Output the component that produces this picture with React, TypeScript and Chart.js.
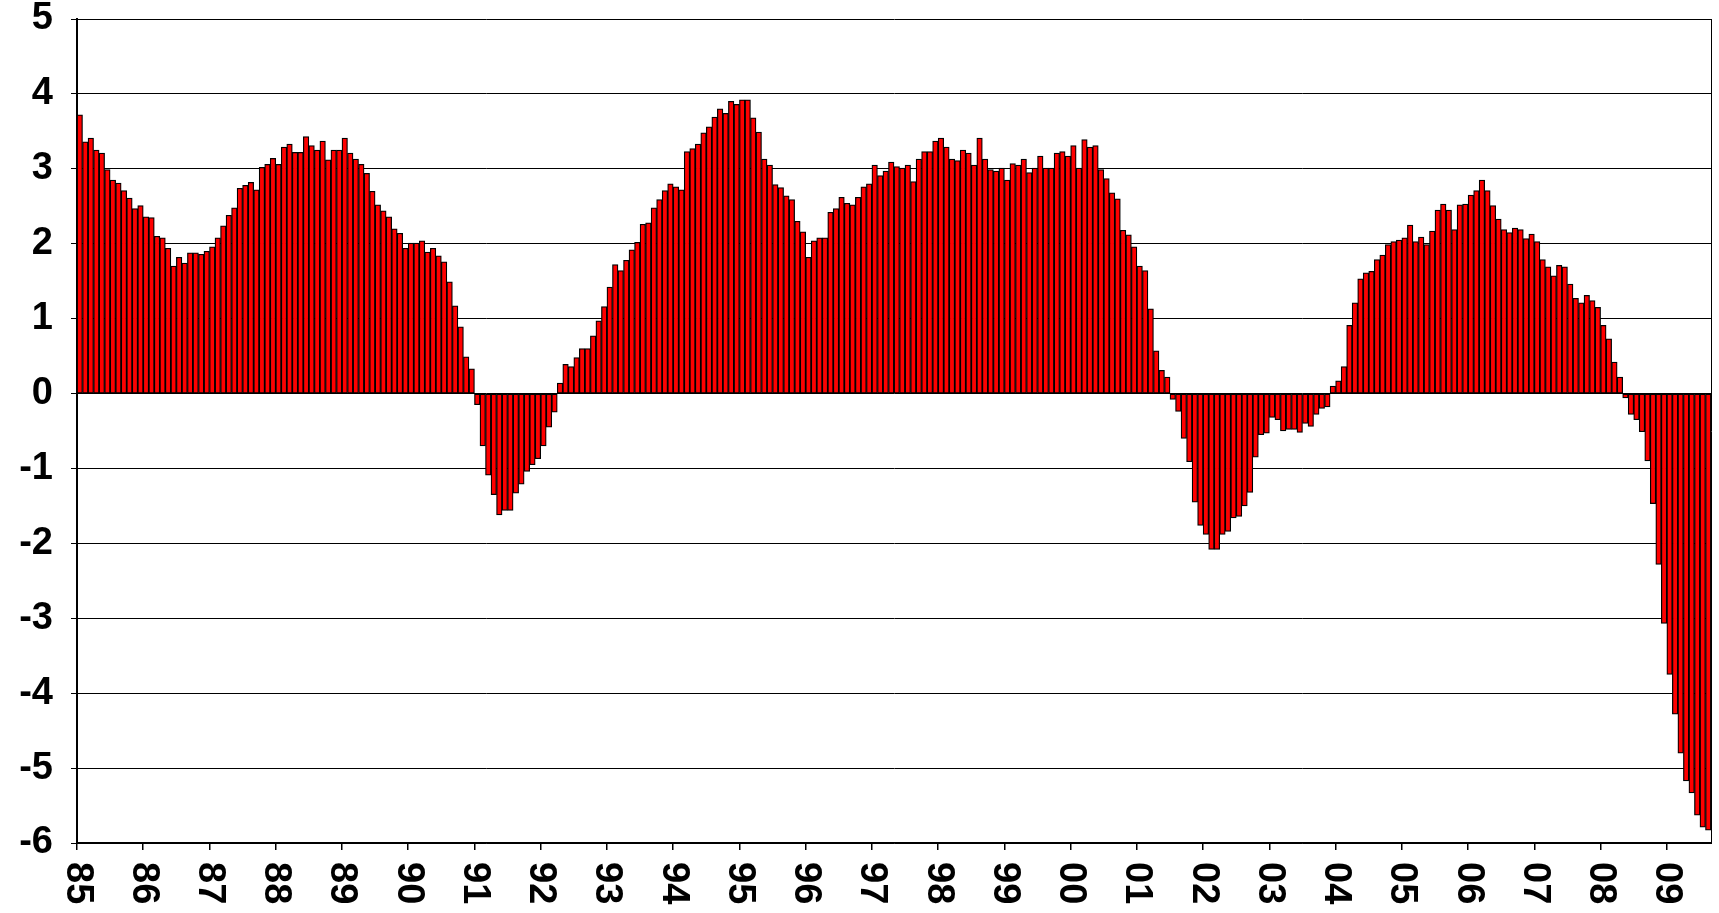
import React, { useEffect, useRef } from 'react';
import { Chart, registerables } from 'chart.js';

Chart.register(...registerables);

// Monthly values, Jan 1985 .. Aug 2009
const y1985 = [3.72, 3.36, 3.41, 3.25, 3.21, 2.99, 2.85, 2.81, 2.71, 2.61, 2.47, 2.51];
const y1986 = [2.36, 2.35, 2.10, 2.08, 1.94, 1.70, 1.82, 1.74, 1.88, 1.88, 1.86, 1.90];
const y1987 = [1.96, 2.08, 2.24, 2.38, 2.48, 2.74, 2.78, 2.82, 2.72, 3.02, 3.06, 3.14];
const y1988 = [3.06, 3.29, 3.33, 3.22, 3.22, 3.43, 3.31, 3.25, 3.37, 3.12, 3.25, 3.25];
const y1989 = [3.41, 3.21, 3.13, 3.06, 2.94, 2.70, 2.52, 2.44, 2.36, 2.20, 2.14, 1.94];
const y1990 = [2.01, 2.01, 2.04, 1.89, 1.94, 1.84, 1.76, 1.49, 1.17, 0.89, 0.49, 0.33];
const y1991 = [-0.15, -0.70, -1.09, -1.35, -1.62, -1.56, -1.56, -1.33, -1.21, -1.04, -0.95, -0.87];
const y1992 = [-0.70, -0.45, -0.25, 0.14, 0.39, 0.36, 0.48, 0.60, 0.60, 0.77, 0.97, 1.16];
const y1993 = [1.42, 1.72, 1.64, 1.78, 1.92, 2.02, 2.26, 2.28, 2.48, 2.59, 2.71, 2.80];
const y1994 = [2.76, 2.72, 3.23, 3.27, 3.33, 3.48, 3.56, 3.69, 3.80, 3.74, 3.90, 3.86];
const y1995 = [3.92, 3.92, 3.68, 3.49, 3.13, 3.05, 2.79, 2.75, 2.64, 2.59, 2.30, 2.16];
const y1996 = [1.82, 2.04, 2.08, 2.08, 2.42, 2.47, 2.62, 2.54, 2.52, 2.62, 2.76, 2.80];
const y1997 = [3.05, 2.91, 2.97, 3.09, 3.03, 3.01, 3.05, 2.83, 3.13, 3.23, 3.23, 3.37];
const y1998 = [3.41, 3.29, 3.13, 3.11, 3.25, 3.21, 3.05, 3.41, 3.13, 2.99, 2.97, 3.01];
const y1999 = [2.85, 3.07, 3.05, 3.13, 2.95, 3.01, 3.17, 3.01, 3.01, 3.21, 3.23, 3.17];
const y2000 = [3.31, 3.01, 3.39, 3.29, 3.31, 2.99, 2.87, 2.68, 2.60, 2.18, 2.12, 1.96];
const y2001 = [1.70, 1.64, 1.13, 0.57, 0.31, 0.22, -0.08, -0.24, -0.60, -0.91, -1.45, -1.76];
const y2002 = [-1.88, -2.08, -2.08, -1.88, -1.84, -1.66, -1.64, -1.50, -1.32, -0.85, -0.55, -0.53];
const y2003 = [-0.32, -0.35, -0.50, -0.48, -0.48, -0.52, -0.40, -0.44, -0.28, -0.20, -0.18, 0.10];
const y2004 = [0.17, 0.36, 0.91, 1.21, 1.53, 1.61, 1.63, 1.79, 1.85, 1.99, 2.03, 2.05];
const y2005 = [2.08, 2.25, 2.03, 2.09, 1.99, 2.17, 2.45, 2.53, 2.45, 2.19, 2.52, 2.53];
const y2006 = [2.65, 2.71, 2.85, 2.71, 2.51, 2.33, 2.19, 2.15, 2.21, 2.19, 2.07, 2.13];
const y2007 = [2.03, 1.79, 1.69, 1.57, 1.71, 1.69, 1.46, 1.27, 1.21, 1.31, 1.24, 1.15];
const y2008 = [0.91, 0.73, 0.42, 0.22, -0.06, -0.28, -0.35, -0.51, -0.90, -1.47, -2.28, -3.07];
const y2009 = [-3.75, -4.28, -4.80, -5.17, -5.33, -5.63, -5.79, -5.83];

const yearLabels = ['85', '86', '87', '88', '89', '90', '91', '92', '93', '94', '95', '96', '97',
  '98', '99', '00', '01', '02', '03', '04', '05', '06', '07', '08', '09'];
const yMin = -6;
const yMax = 5;

const monthly = [
  ...y1985, ...y1986, ...y1987, ...y1988, ...y1989, ...y1990, ...y1991, ...y1992, ...y1993,
  ...y1994, ...y1995, ...y1996, ...y1997, ...y1998, ...y1999, ...y2000, ...y2001, ...y2002,
  ...y2003, ...y2004, ...y2005, ...y2006, ...y2007, ...y2008, ...y2009,
];

const FONT = '"Liberation Sans", Arial, sans-serif';

export default function App() {
  const ref = useRef<HTMLCanvasElement>(null);

  useEffect(() => {
    if (!ref.current) return;
    const yearLabelPlugin = {
      id: 'yearLabelPlugin',
      afterDraw(chart: any) {
        const xs = chart.scales.x;
        const ctx = chart.ctx;
        ctx.save();
        ctx.font = `bold 38px ${FONT}`;
        ctx.fillStyle = '#000';
        ctx.textAlign = 'left';
        ctx.textBaseline = 'middle';
        yearLabels.forEach((lab, i) => {
          const px = xs.getPixelForValue(i * 12);
          ctx.save();
          ctx.translate(px, chart.chartArea.bottom + 19);
          ctx.rotate(Math.PI / 2);
          ctx.fillText(lab, 0, 0);
          ctx.restore();
        });
        ctx.restore();
      },
    };

    const chart = new Chart(ref.current, {
      type: 'bar',
      data: {
        datasets: [
          {
            data: monthly.map((v, i) => ({ x: i + 0.5, y: v })),
            backgroundColor: '#ff0000',
            borderColor: '#000000',
            borderWidth: 1.25,
            borderSkipped: false,
            barPercentage: 1,
            categoryPercentage: 1,
          },
        ],
      },
      options: {
        responsive: false,
        animation: false,
        devicePixelRatio: 1,
        layout: { padding: { top: 0, left: 0, right: 0, bottom: 0 } },
        plugins: { legend: { display: false }, tooltip: { enabled: false } },
        scales: {
          x: {
            type: 'linear',
            min: 0,
            max: monthly.length,
            offset: false,
            afterBuildTicks: (s: any) => {
              s.ticks = yearLabels.map((_, i) => ({ value: i * 12 }));
            },
            afterFit: (s: any) => {
              s.height = 70;
              s.paddingLeft = 0;
              s.paddingRight = 0;
            },
            grid: {
              offset: false,
              drawOnChartArea: false,
              drawTicks: true,
              tickLength: 7,
              color: '#000',
              lineWidth: 1.5,
            },
            border: { display: true, color: '#000', width: 1.5 },
            ticks: { display: false },
          },
          y: {
            type: 'linear',
            min: yMin,
            max: yMax,
            afterFit: (s: any) => {
              s.width = 77;
              s.paddingTop = 19;
              s.paddingBottom = 0;
            },
            ticks: {
              stepSize: 1,
              color: '#000',
              padding: 18,
              font: { family: FONT, size: 38, weight: 'bold' },
            },
            grid: {
              color: '#000',
              lineWidth: 1,
              tickLength: 6,
            },
            border: { display: true, color: '#000', width: 2 },
          },
          y2: {
            type: 'linear',
            position: 'right',
            min: yMin,
            max: yMax,
            afterFit: (s: any) => {
              s.width = 8;
              s.paddingTop = 0;
              s.paddingBottom = 0;
            },
            ticks: { display: false },
            grid: { display: false },
            border: { display: true, color: '#000', width: 1 },
          },
        },
      },
      plugins: [yearLabelPlugin],
    } as any);
    return () => chart.destroy();
  }, []);

  return (
    <div style={{ position: 'fixed', left: 0, top: 0, width: 1719, height: 913, background: '#fff' }}>
      <canvas ref={ref} width={1719} height={913} style={{ display: 'block' }} />
    </div>
  );
}
